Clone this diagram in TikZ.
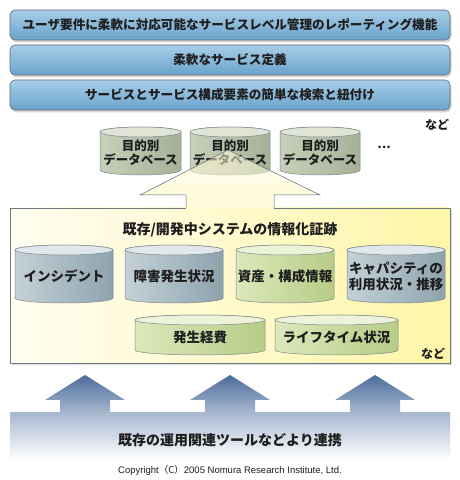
\documentclass[tikz,border=0pt]{standalone}
\usepackage{fontspec}
\newfontfamily\jp{Noto Sans CJK JP}
\newfontfamily\lsans{Liberation Sans}
\usetikzlibrary{shadows}
\definecolor{barTop}{HTML}{A8CDE8}
\definecolor{barBot}{HTML}{6AA3CB}
\definecolor{lineC}{HTML}{5E6A72}
\definecolor{txt}{HTML}{1E1E1E}
\definecolor{gL}{HTML}{C4D1D7}
\definecolor{gM}{HTML}{EEF2F3}
\definecolor{gR}{HTML}{8EA3AD}
\definecolor{vL}{HTML}{DCE8BC}
\definecolor{vM}{HTML}{F4F8E4}
\definecolor{vR}{HTML}{B6CC86}
\definecolor{tL}{HTML}{C7D0BA}
\definecolor{tM}{HTML}{E9EDE1}
\definecolor{tR}{HTML}{A4B197}
\definecolor{yL}{HTML}{FFFDF0}
\definecolor{yR}{HTML}{FFF6A8}
\definecolor{yA}{HTML}{FFFBD6}
\definecolor{aTop}{HTML}{4C6C9C}
\definecolor{aBot}{HTML}{A8B8D0}
\tikzset{
  bar/.style={draw=lineC, line width=0.6pt, rounded corners=5pt, top color=barTop, bottom color=barBot,
    drop shadow={shadow xshift=1.5pt, shadow yshift=-2.5pt, fill=black!40, opacity=0.4}},
  bartext/.style={font=\jp\bfseries\fontsize{12.6}{14}\selectfont, text=txt},
  dbtext/.style={font=\jp\bfseries\fontsize{12.5}{14}\selectfont, text=txt, align=center},
  dbtextb/.style={font=\jp\bfseries\fontsize{13.5}{16}\selectfont, text=txt, align=center},
  cylline/.style={draw=lineC!80, line width=0.5pt},
  nado/.style={font=\jp\bfseries\fontsize{12}{14}\selectfont, text=txt},
}
% #1 name, #2 xL, #3 yTop(px), #4 xR, #5 yBot(px), #6 left, #7 mid, #8 right, #9 text
\newcommand\dbc[9]{%
  \pgfmathsetmacro\cxL{#2}\pgfmathsetmacro\cxR{#4}%
  \pgfmathsetmacro\cyT{480-#3-5}\pgfmathsetmacro\cyB{480-#5+5}%
  \pgfmathsetmacro\crx{(#4-#2)/2}\pgfmathsetmacro\ccx{(#2+#4)/2}%
  \pgfmathsetmacro\ccy{(\cyT+\cyB)/2-2}%
  \draw[cylline, left color=#6, middle color=#7, right color=#8]
    (\cxL,\cyT) -- (\cxL,\cyB) arc[start angle=180, end angle=360, x radius=\crx pt, y radius=5pt]
    -- (\cxR,\cyT) arc[start angle=0, end angle=180, x radius=\crx pt, y radius=5pt] -- cycle;
  \draw[cylline, fill=#7!70!#6] (\ccx,\cyT) ellipse[x radius=\crx pt, y radius=5pt];
  \node[\dbstyle] (#1) at (\ccx,\ccy) {#9};
}
\def\dbstyle{dbtext}
\begin{document}
\begin{tikzpicture}[x=1pt,y=1pt]
\useasboundingbox (0,0) rectangle (460,480);
\fill[white] (0,0) rectangle (460,480);
% top bars
\draw[bar] (10,440) rectangle (450,470);
\node[bartext] (b1) at (230,455) {ユーザ要件に柔軟に対応可能なサービスレベル管理のレポーティング機能};
\draw[bar] (10,405) rectangle (450,435);
\node[bartext] (b2) at (230,420) {柔軟なサービス定義};
\draw[bar] (10,370) rectangle (450,400);
\node[bartext] (b3) at (230,385) {サービスとサービス構成要素の簡単な検索と紐付け};
\node[nado] (n1) at (437,355) {など};
% purpose DBs
\dbc{d1}{100}{127}{181}{175}{tL}{tM}{tR}{目的別\\データベース}
\dbc{d2}{190}{127}{270}{175}{tL}{tM}{tR}{目的別\\データベース}
\dbc{d3}{280}{127}{360}{175}{tL}{tM}{tR}{目的別\\データベース}
\node[font=\jp\bfseries\fontsize{12}{14}\selectfont, text=txt] (dots) at (384,333) {…};
% main box
\fill[left color=yL, right color=yR, drop shadow={shadow xshift=2pt, shadow yshift=-2.5pt, fill=black!40, opacity=0.35}] (10,117) rectangle (450,272);
\draw[lineC!90, line width=0.6pt] (186,272) -- (10,272) -- (10,117) -- (450,117) -- (450,272) -- (274,272);
% big yellow arrow
\fill[yA, fill opacity=0.55] (228,330) -- (320,285) -- (274,285) -- (274,272) -- (186,272) -- (186,285) -- (140,285) -- cycle;
\fill[yA, fill opacity=0.6] (274,295) -- (300,295) -- (320,285) -- (274,285) -- (274,272) -- (186,272) -- (186,285) -- (140,285) -- (160,295) -- (186,295) -- cycle;
\draw[lineC, line width=0.5pt] (186,272) -- (186,285) -- (140,285) -- (228,330) -- (320,285) -- (274,285) -- (274,272);
\node[font=\jp\bfseries\fontsize{14}{16}\selectfont, text=txt] (title) at (230,250) {既存/開発中システムの情報化証跡};
% inner DBs
\def\dbstyle{dbtextb}
\dbc{c1}{15}{245}{113}{303}{gL}{gM}{gR}{インシデント}
\dbc{c2}{125}{245}{223}{303}{gL}{gM}{gR}{障害発生状況}
\dbc{c3}{236}{245}{334}{303}{vL}{vM}{vR}{資産・構成情報}
\dbc{c4}{347}{245}{445}{303}{gL}{gM}{gR}{キャパシティの\\利用状況・推移}
\dbc{c5}{135}{315}{265}{355}{vL}{vM}{vR}{発生経費}
\dbc{c6}{275}{315}{398}{355}{vL}{vM}{vR}{ライフタイム状況}
\node[nado] (n2) at (433,126) {など};
% bottom band and arrows
\shade[top color=aBot, bottom color=white] (10,20) rectangle (450,67);
\foreach \cx/\nm in {85/a1,230/a2,375/a3}{
  \shade[top color=aTop, bottom color=aBot] (\cx,105) -- (\cx+40,80) -- (\cx+25,80) -- (\cx+25,67) -- (\cx-25,67) -- (\cx-25,80) -- (\cx-40,80) -- cycle;
  \coordinate (\nm) at (\cx,105);
}
\node[font=\jp\bfseries\fontsize{14}{16}\selectfont, text=txt] (tools) at (230,40) {既存の運用関連ツールなどより連携};
\node[font=\lsans\fontsize{9.5}{11}\selectfont, text=txt] (copy) at (230,10) {Copyright\jp（C）\lsans 2005 Nomura Research Institute, Ltd.};
\end{tikzpicture}
\end{document}
